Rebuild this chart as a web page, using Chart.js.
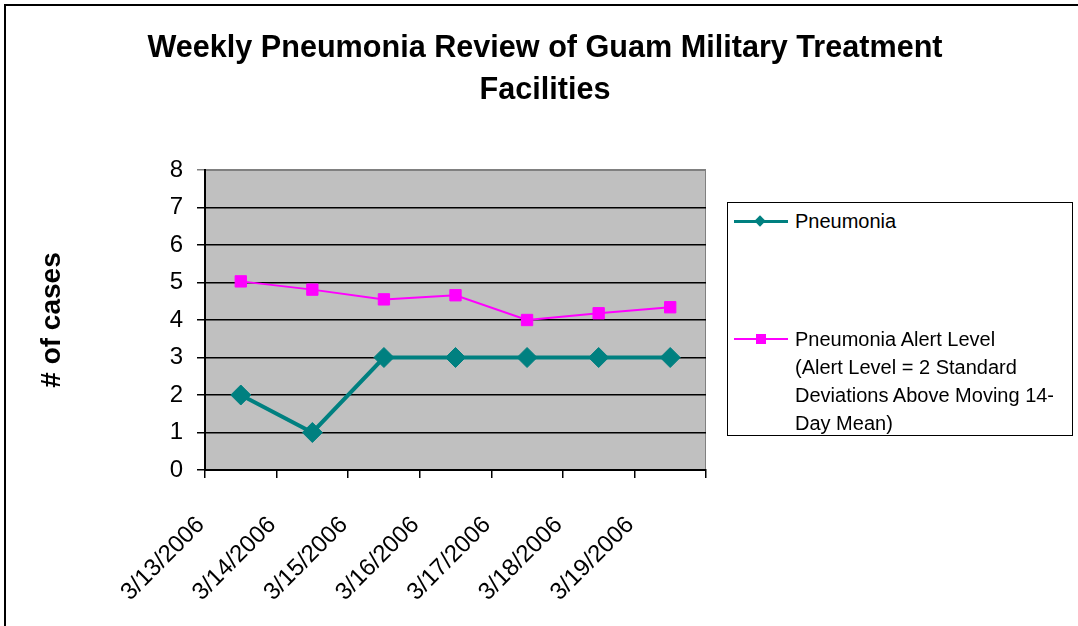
<!DOCTYPE html>
<html>
<head>
<meta charset="utf-8">
<script src="https://cdn.jsdelivr.net/npm/chart.js@4.4.1/dist/chart.umd.min.js"></script>
<style>
  body { margin: 0; background: #fff; font-family: 'Liberation Sans', Arial, sans-serif; }
  #wrap { position: relative; width: 1078px; height: 626px; overflow: hidden; background: #fff; }
  #frame { position: absolute; left: 4px; top: 4px; width: 1200px; height: 800px; border: 2px solid #000; }
  #grafico { position: absolute; left: 0; top: 0; }
  #titulo { position: absolute; left: 0; top: 25px; width: 1090px; text-align: center;
    font-weight: bold; font-size: 30.6px; line-height: 42px; color: #000; }
  #legenda { position: absolute; left: 727px; top: 202px; width: 344px; height: 232px; border: 1px solid #000; background: #fff; }
  .item { position: absolute; left: 0; font-size: 20px; line-height: 28px; color: #000; white-space: nowrap; }
  .amostra { position: absolute; }
</style>
</head>
<body>
<div id="wrap">
  <div id="frame"></div>
  <canvas id="grafico" width="1078" height="626"></canvas>
  <div id="titulo">Weekly Pneumonia Review of Guam Military Treatment<br>Facilities</div>
  <div id="legenda"></div>
</div>
<script>
// dados
const datas = ['3/13/2006', '3/14/2006', '3/15/2006', '3/16/2006', '3/17/2006', '3/18/2006', '3/19/2006'];
const pneumonia = [2, 1, 3, 3, 3, 3, 3];
const nivelAlerta = [5.03, 4.81, 4.55, 4.66, 4.0, 4.18, 4.34];
const eixoY = { min: 0, max: 8, passo: 1 };
const rotulos = [
  { nome: 'Pneumonia', cor: '#008080', linhas: ['Pneumonia'] },
  { nome: 'Pneumonia Alert Level', cor: '#FF00FF', linhas: [
    'Pneumonia Alert Level',
    '(Alert Level = 2 Standard',
    'Deviations Above Moving 14-',
    'Day Mean)'
  ] }
];

const fonte = "'Liberation Sans', Arial, sans-serif";

// fundo cinza da área do gráfico
const fundoPlot = {
  id: 'fundoPlot',
  beforeDraw(chart) {
    const { ctx, chartArea: a } = chart;
    ctx.save();
    ctx.fillStyle = '#C0C0C0';
    ctx.fillRect(a.left, a.top, a.right - a.left, a.bottom - a.top);
    ctx.strokeStyle = '#808080';
    ctx.lineWidth = 1;
    ctx.strokeRect(a.left + 0.5, a.top + 0.5, a.right - a.left - 1, a.bottom - a.top);
    ctx.restore();
  }
};

new Chart(document.getElementById('grafico').getContext('2d'), {
  type: 'line',
  data: {
    labels: datas,
    datasets: [
      {
        label: rotulos[1].nome,
        data: nivelAlerta,
        borderColor: '#FF00FF',
        backgroundColor: '#FF00FF',
        borderWidth: 2,
        pointStyle: 'rect',
        pointRadius: 8,
        pointBorderWidth: 1,
        tension: 0
      },
      {
        label: rotulos[0].nome,
        data: pneumonia,
        borderColor: '#008080',
        backgroundColor: '#008080',
        borderWidth: 4,
        pointStyle: 'rectRot',
        pointRadius: 10,
        pointBorderWidth: 1,
        tension: 0
      }
    ]
  },
  options: {
    responsive: false,
    animation: false,
    devicePixelRatio: 1,
    layout: { padding: { left: 28, right: 372, top: 170, bottom: 0 } },
    plugins: { legend: { display: false }, title: { display: false }, tooltip: { enabled: false } },
    scales: {
      x: {
        type: 'category',
        offset: true,
        grid: { offset: true, drawOnChartArea: false, drawTicks: true, tickLength: 8, color: '#000', lineWidth: 1.5 },
        border: { color: '#000', width: 2 },
        ticks: {
          autoSkip: false,
          minRotation: 45,
          maxRotation: 45,
          labelOffset: -40,
          padding: 33,
          color: '#000',
          font: { family: fonte, size: 24 }
        },
        afterFit(scale) { scale.height = 156; }
      },
      y: {
        min: eixoY.min,
        max: eixoY.max,
        ticks: { stepSize: eixoY.passo, padding: 14, color: '#000', font: { family: fonte, size: 24 } },
        grid: {
          tickLength: 8,
          lineWidth: 1.5,
          color: ctx => (ctx.tick && ctx.tick.value === eixoY.max ? '#808080' : '#000')
        },
        border: { color: '#000', width: 2 },
        title: {
          display: true,
          text: '# of cases',
          color: '#000',
          font: { family: fonte, size: 28, weight: 'bold' },
          padding: { top: 7, bottom: 0 }
        },
        afterFit(scale) { scale.width = 177; }
      }
    }
  },
  plugins: [fundoPlot]
});

// legenda montada à parte (texto em várias linhas)
function renderLegenda() {
  const box = document.getElementById('legenda');
  const topos = [18 - 14, 136 - 14];
  rotulos.forEach((r, i) => {
    const yMeio = topos[i] + 14;
    const linha = document.createElement('div');
    linha.className = 'amostra';
    const esp = i === 0 ? 3 : 2;
    linha.style.cssText = `left:6px;top:${yMeio - esp / 2}px;width:54px;height:${esp}px;background:${r.cor}`;
    box.appendChild(linha);
    const marca = document.createElement('div');
    marca.className = 'amostra';
    if (i === 0) {
      marca.style.cssText = `left:28px;top:${yMeio - 4}px;width:8px;height:8px;background:${r.cor};transform:rotate(45deg)`;
    } else {
      marca.style.cssText = `left:28px;top:${yMeio - 5}px;width:10px;height:10px;background:${r.cor}`;
    }
    box.appendChild(marca);
    const txt = document.createElement('div');
    txt.className = 'item';
    txt.style.left = '67px';
    txt.style.top = topos[i] + 'px';
    txt.innerHTML = r.linhas.join('<br>');
    box.appendChild(txt);
  });
}
renderLegenda();
</script>
</body>
</html>
